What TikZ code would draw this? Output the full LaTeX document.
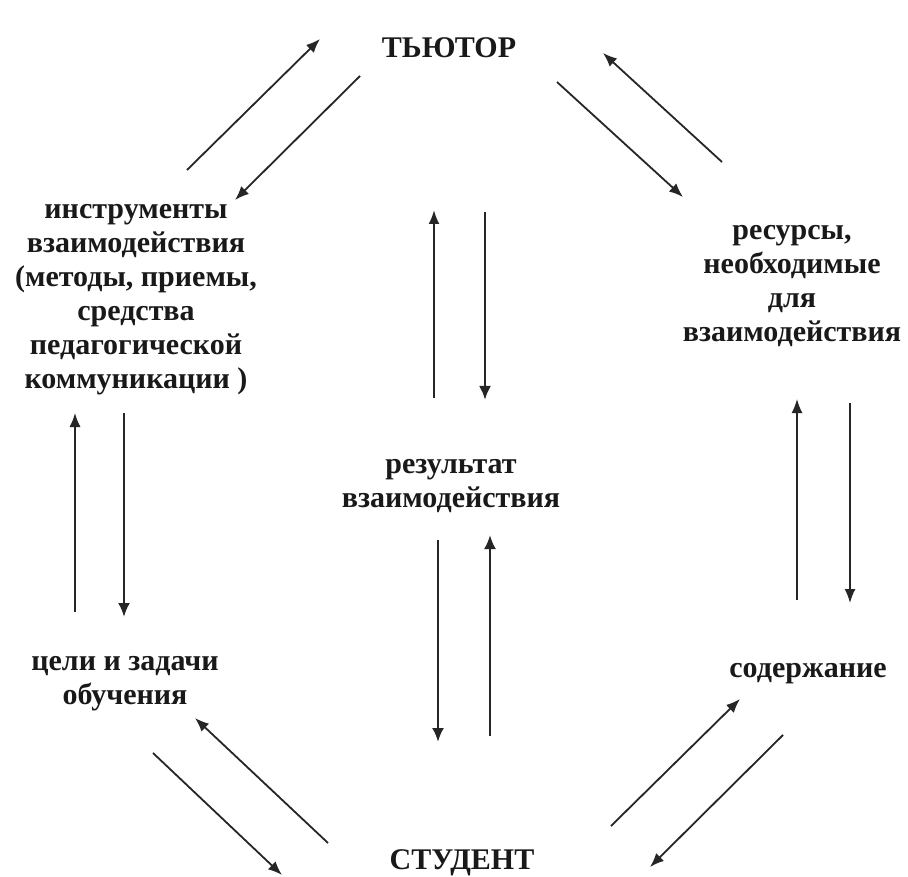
\documentclass[tikz,border=0pt]{standalone}
\usepackage{fontspec}
\setmainfont{Liberation Serif}
\usetikzlibrary{arrows.meta}
\begin{document}
\begin{tikzpicture}[x=1pt,y=-1pt,
  lbl/.style={font=\fontsize{30}{34}\selectfont\bfseries, align=center, inner sep=0pt, text=black!90},
  arr/.style={-{Latex[length=14pt,width=11pt]}, line width=1.8pt, draw=black!85},
  arrthin/.style={arr, line width=1.4pt},
  arrthick/.style={arr, line width=2.8pt, -{Latex[length=14pt,width=12pt]}}]
\useasboundingbox (0,0) rectangle (908,877);
\fill[white] (0,0) rectangle (908,877);

% text nodes
\node[lbl] (tutor)   at (449,48)  {ТЬЮТОР};
\node[lbl] (student) at (462,863) {СТУДЕНТ};
\node[lbl] (tools)   at (136,300) {инструменты\\взаимодействия\\(методы, приемы,\\средства\\педагогической\\коммуникации )};
\node[lbl] (res)     at (792,286) {ресурсы,\\необходимые\\для\\взаимодействия};
\node[lbl] (result)  at (451,486) {результат\\взаимодействия};
\node[lbl] (goals)   at (125,684) {цели и задачи\\обучения};
\node[lbl] (content) at (808,674) {содержание};

% arrow end points
\coordinate (a1s) at (187,170); \coordinate (a1e) at (320,39);
\coordinate (a2s) at (360,76);  \coordinate (a2e) at (235,200);
\coordinate (a3s) at (557,82);  \coordinate (a3e) at (683,197);
\coordinate (a4s) at (722,162); \coordinate (a4e) at (603,53);
\coordinate (c1s) at (434,398); \coordinate (c1e) at (434,210);
\coordinate (c2s) at (485,212); \coordinate (c2e) at (485,400);
\coordinate (c3s) at (438,540); \coordinate (c3e) at (438,742);
\coordinate (c4s) at (490,736); \coordinate (c4e) at (490,535);
\coordinate (l1s) at (75,612);  \coordinate (l1e) at (75,413);
\coordinate (l2s) at (124,413); \coordinate (l2e) at (124,617);
\coordinate (r1s) at (797,600); \coordinate (r1e) at (797,399);
\coordinate (r2s) at (850,403); \coordinate (r2e) at (850,603);
\coordinate (b1s) at (328,843); \coordinate (b1e) at (195,718);
\coordinate (b2s) at (153,753); \coordinate (b2e) at (282,875);
\coordinate (b3s) at (611,826); \coordinate (b3e) at (740,699);
\coordinate (b4s) at (783,735); \coordinate (b4e) at (650,867);

% arrows
\draw[arr] (a1s) -- (a1e);
\draw[arr] (a2s) -- (a2e);
\draw[arr] (a3s) -- (a3e);
\draw[arr] (a4s) -- (a4e);
\draw[arr, line width=2.2pt] (c1s) -- (c1e);
\draw[arrthick] (c2s) -- (c2e);
\draw[arrthick, line width=2.4pt] (c3s) -- (c3e);
\draw[arrthick, line width=2.4pt] (c4s) -- (c4e);
\draw[arrthin] (l1s) -- (l1e);
\draw[arrthick, line width=2.4pt] (l2s) -- (l2e);
\draw[arrthin, line width=1.6pt] (r1s) -- (r1e);
\draw[arrthin, line width=1.6pt] (r2s) -- (r2e);
\draw[arr] (b1s) -- (b1e);
\draw[arr] (b2s) -- (b2e);
\draw[arr] (b3s) -- (b3e);
\draw[arr] (b4s) -- (b4e);
\end{tikzpicture}
\end{document}
